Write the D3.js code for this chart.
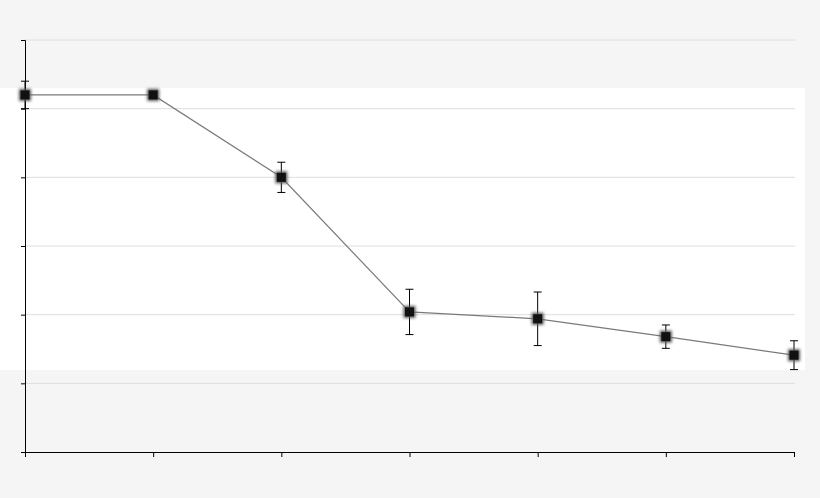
<!DOCTYPE html>
<html><head><meta charset="utf-8">
<script src="https://cdn.jsdelivr.net/npm/d3@7"></script>
<style>body{margin:0;background:#f5f5f5}</style>
</head><body>
<svg id="chart" width="820" height="498"></svg>
<script>
var categories = [1, 2, 3, 4, 5, 6, 7];
var values = [5.2, 5.2, 4.0, 2.04, 1.94, 1.68, 1.41];
var errors = [0.2, 0, 0.22, 0.33, 0.39, 0.17, 0.21];
var yTicks = [0, 1, 2, 3, 4, 5, 6];

var svg = d3.select("#chart");

var x = d3.scalePoint().domain(categories).range([25, 794]);
var y = d3.scaleLinear().domain([0, 6]).range([452, 40]);

svg.append("rect").attr("x", 0).attr("y", 88).attr("width", 805).attr("height", 282).attr("fill", "#fff");

svg.selectAll(".grid").data(yTicks.slice(1)).enter().append("line")
  .attr("x1", 25).attr("x2", 795)
  .attr("y1", function(d) { return y(d) }).attr("y2", function(d) { return y(d) })
  .attr("stroke", "#dedede");

svg.append("g").attr("transform", "translate(25,0)")
  .call(d3.axisLeft(y).tickValues(yTicks).tickSize(4).tickFormat(""))
  .call(function(g) { g.selectAll("path,line").attr("stroke", "#000"); });

svg.append("g").attr("transform", "translate(0,452)")
  .call(d3.axisBottom(x).tickSize(5).tickSizeOuter(0).tickFormat(""))
  .call(function(g) { g.selectAll("path,line").attr("stroke", "#000"); });

var defs = svg.append("defs");
defs.append("filter").attr("id", "blur").attr("x", "-100%").attr("y", "-100%").attr("width", "300%").attr("height", "300%")
  .append("feGaussianBlur").attr("stdDeviation", 1.8);

var pts = categories.map(function(c, i) { return { c: c, v: values[i], e: errors[i] }; });

svg.append("path").datum(pts)
  .attr("d", d3.line().x(function(d) { return x(d.c) }).y(function(d) { return y(d.v) }))
  .attr("fill", "none").attr("stroke", "#7a7a7a").attr("stroke-width", 1.2);

var eb = svg.selectAll(".err").data(pts.filter(function(d) { return d.e > 0 })).enter().append("g").attr("stroke", "#000");
eb.append("line").attr("x1", function(d) { return x(d.c) }).attr("x2", function(d) { return x(d.c) })
  .attr("y1", function(d) { return y(d.v + d.e) }).attr("y2", function(d) { return y(d.v - d.e) });
eb.append("line").attr("x1", function(d) { return x(d.c) - 4 }).attr("x2", function(d) { return x(d.c) + 4 })
  .attr("y1", function(d) { return y(d.v + d.e) }).attr("y2", function(d) { return y(d.v + d.e) });
eb.append("line").attr("x1", function(d) { return x(d.c) - 4 }).attr("x2", function(d) { return x(d.c) + 4 })
  .attr("y1", function(d) { return y(d.v - d.e) }).attr("y2", function(d) { return y(d.v - d.e) });

svg.selectAll(".shadow").data(pts).enter().append("rect")
  .attr("x", function(d) { return x(d.c) - 6 }).attr("y", function(d) { return y(d.v) - 6 })
  .attr("width", 12).attr("height", 12).attr("fill", "#555").attr("filter", "url(#blur)");
svg.selectAll(".mark").data(pts).enter().append("rect")
  .attr("x", function(d) { return x(d.c) - 4.5 }).attr("y", function(d) { return y(d.v) - 4.5 })
  .attr("width", 9).attr("height", 9).attr("fill", "#111");
</script>
</body></html>
